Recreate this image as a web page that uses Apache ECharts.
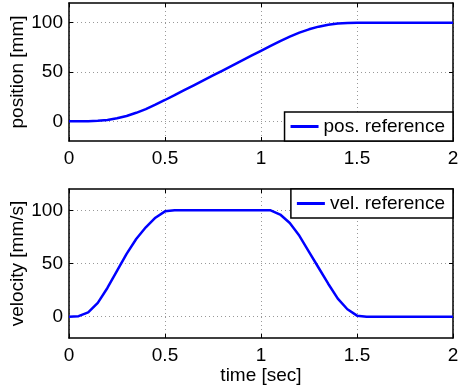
<!DOCTYPE html>
<html>
<head>
<meta charset="utf-8">
<script src="https://cdn.jsdelivr.net/npm/echarts@6/dist/echarts.min.js"></script>
<style>
  html, body { margin: 0; padding: 0; background: #fff; }
  #chart { width: 459px; height: 392px; }
</style>
</head>
<body>
<div id="chart"></div>
<script>
// samples (every 0.05 s)
const time = [
  0, 0.05, 0.1, 0.15, 0.2, 0.25, 0.3, 0.35, 0.4, 0.45,
  0.5, 0.55, 0.6, 0.65, 0.7, 0.75, 0.8, 0.85, 0.9, 0.95,
  1.0, 1.05, 1.1, 1.15, 1.2, 1.25, 1.3, 1.35, 1.4, 1.45,
  1.5, 1.55, 1.6, 1.65, 1.7, 1.75, 1.8, 1.85, 1.9, 1.95, 2.0,
];
const position = [
  0, 0, 0.1, 0.5, 1.4, 3, 5.4, 8.6, 12.4, 16.8,
  21.6, 26.5, 31.5, 36.5, 41.5, 46.5, 51.5, 56.5, 61.5, 66.5,
  71.5, 76.5, 81.4, 85.9, 89.9, 93.3, 96, 97.9, 99.1, 99.7,
  100, 100, 100, 100, 100, 100, 100, 100, 100, 100, 100,
];
const velocity = [
  0, 0.5, 4, 13, 27, 43, 59, 73, 84, 93,
  99, 100, 100, 100, 100, 100, 100, 100, 100, 100,
  100, 100, 96, 88, 76, 61, 46, 31, 17, 7,
  1, 0, 0, 0, 0, 0, 0, 0, 0, 0, 0,
];
const yTicks = [0, 50, 100];

const FONT = "Liberation Sans, Arial, sans-serif";
const BLUE = "#0000ff";

const pair = (ys) => time.map((t, i) => [t, ys[i]]);

function xAxisFor(gridIndex, pos, showLabels, name) {
  return {
    type: "value",
    gridIndex: gridIndex,
    position: pos,
    min: 0,
    max: 2,
    interval: 0.5,
    name: name || "",
    nameLocation: "middle",
    nameGap: 28,
    nameMoveOverlap: false,
    nameTextStyle: { color: "#000", fontFamily: FONT, fontSize: 19 },
    axisLine: { show: true, onZero: false, lineStyle: { color: "#000", width: 1.5 } },
    axisTick: { show: true, inside: true, length: 4, lineStyle: { color: "#000" } },
    axisLabel: {
      show: showLabels,
      margin: 8,
      color: "#000",
      fontFamily: FONT,
      fontSize: 19,
      showMinLabel: true,
      showMaxLabel: true,
    },
    splitLine: {
      show: showLabels,
      lineStyle: { color: "#999", type: [1, 3], width: 1 },
    },
  };
}

function yAxisFor(gridIndex, pos, showLabels, name) {
  return {
    type: "value",
    gridIndex: gridIndex,
    position: pos,
    min: -20,
    max: 120,
    name: name || "",
    nameLocation: "middle",
    nameGap: 42,
    nameMoveOverlap: false,
    nameTextStyle: { color: "#000", fontFamily: FONT, fontSize: 19 },
    axisLine: { show: true, onZero: false, lineStyle: { color: "#000", width: 1.5 } },
    axisTick: {
      show: true,
      inside: true,
      length: 4,
      customValues: yTicks,
      lineStyle: { color: "#000" },
    },
    axisLabel: {
      show: showLabels,
      customValues: yTicks,
      margin: 6,
      color: "#000",
      fontFamily: FONT,
      fontSize: 19,
    },
    splitLine: {
      show: showLabels,
      lineStyle: { color: "#999", type: [1, 3], width: 1 },
    },
  };
}

const legendBase = {
  orient: "horizontal",
  backgroundColor: "#fff",
  borderColor: "#000",
  borderWidth: 1.5,
  borderRadius: 0,
  padding: [5, 8, 5, 6],
  icon: "rect",
  itemWidth: 28,
  itemHeight: 3,
  itemGap: 4,
  itemStyle: { color: BLUE, borderWidth: 0 },
  textStyle: { color: "#000", fontFamily: FONT, fontSize: 19 },
};

const options = {
  animation: false,
  backgroundColor: "#fff",
  grid: [
    { left: 69, right: 6, top: 3, height: 138, show: false, containLabel: false, outerBoundsMode: "none" },
    { left: 69, right: 6, top: 189, height: 149, show: false, containLabel: false, outerBoundsMode: "none" },
  ],
  xAxis: [
    xAxisFor(0, "bottom", true),
    xAxisFor(0, "top", false),
    xAxisFor(1, "bottom", true, "time [sec]"),
    xAxisFor(1, "top", false),
  ],
  yAxis: [
    yAxisFor(0, "left", true, "position [mm]"),
    yAxisFor(0, "right", false),
    yAxisFor(1, "left", true, "velocity [mm/s]"),
    yAxisFor(1, "right", false),
  ],
  legend: [
    Object.assign({}, legendBase, { data: ["pos. reference"], right: 6, bottom: 251 }),
    Object.assign({}, legendBase, { data: ["vel. reference"], right: 6, top: 189 }),
  ],
  series: [
    {
      name: "pos. reference",
      type: "line",
      xAxisIndex: 0,
      yAxisIndex: 0,
      data: pair(position),
      symbol: "none",
      lineStyle: { color: BLUE, width: 2.5 },
      itemStyle: { color: BLUE },
    },
    {
      name: "vel. reference",
      type: "line",
      xAxisIndex: 2,
      yAxisIndex: 2,
      data: pair(velocity),
      symbol: "none",
      lineStyle: { color: BLUE, width: 2.5 },
      itemStyle: { color: BLUE },
    },
  ],
};

const chart = echarts.init(document.getElementById("chart"), null, { renderer: "canvas" });
chart.setOption(options);
</script>
</body>
</html>
